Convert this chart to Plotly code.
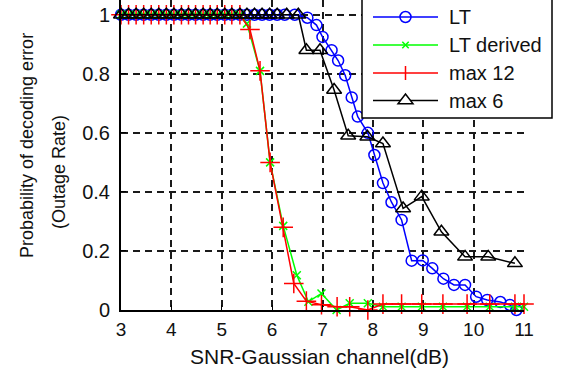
import plotly.graph_objects as go

# ---------------- data ----------------
lt_x = [3.0, 3.15, 3.3, 3.45, 3.6, 3.75, 3.9, 4.05, 4.2, 4.34, 4.48, 4.63, 4.77, 4.91,
        5.06, 5.2, 5.36, 5.5, 5.65, 5.8, 5.95, 6.1, 6.25, 6.45, 6.7, 6.88, 7.0, 7.18,
        7.31, 7.45, 7.58, 7.7, 7.9, 8.03, 8.2, 8.37, 8.57, 8.77, 8.99, 9.18, 9.4, 9.61,
        9.83, 10.05, 10.27, 10.53, 10.72, 10.85]
lt_y = [1.0, 1.0, 1.0, 1.0, 1.0, 1.0, 1.0, 1.0, 1.0, 1.0, 1.0, 1.0, 1.0, 1.0,
        1.0, 1.0, 1.0, 1.0, 1.0, 1.0, 1.0, 1.0, 1.0, 1.0, 0.99, 0.965, 0.925, 0.88,
        0.845, 0.795, 0.72, 0.655, 0.6, 0.525, 0.43, 0.365, 0.305, 0.167, 0.168, 0.141, 0.106, 0.085,
        0.085, 0.045, 0.034, 0.027, 0.017, 0.0]

ltd_x = [3.0, 3.15, 3.3, 3.45, 3.6, 3.75, 3.9, 4.05, 4.2, 4.34, 4.48, 4.63, 4.77, 4.91,
         5.06, 5.2, 5.36, 5.5, 5.76, 5.96, 6.22, 6.49, 6.72, 6.98, 7.28, 7.54, 7.9,
         8.2, 8.57, 8.97, 9.39, 9.87, 10.32, 10.82, 11.0]
ltd_y = [1.0, 1.0, 1.0, 1.0, 1.0, 1.0, 1.0, 1.0, 1.0, 1.0, 1.0, 1.0, 1.0, 1.0,
         1.0, 1.0, 1.0, 0.97, 0.81, 0.50, 0.285, 0.118, 0.028, 0.056, 0.0, 0.023, 0.023,
         0.011, 0.011, 0.011, 0.011, 0.011, 0.011, 0.011, 0.011]

m12_x = [3.0, 3.15, 3.3, 3.45, 3.6, 3.75, 3.9, 4.05, 4.2, 4.34, 4.48, 4.63, 4.77, 4.91,
         5.06, 5.2, 5.36, 5.56, 5.76, 5.96, 6.22, 6.43, 6.68, 6.98, 7.29, 7.54, 7.9,
         8.2, 8.57, 8.97, 9.39, 9.87, 10.32, 10.82, 11.0]
m12_y = [1.0, 1.0, 1.0, 1.0, 1.0, 1.0, 1.0, 1.0, 1.0, 1.0, 1.0, 1.0, 1.0, 1.0,
         1.0, 1.0, 1.0, 0.95, 0.81, 0.50, 0.28, 0.09, 0.03, 0.018, 0.011, 0.011, 0.0,
         0.02, 0.02, 0.02, 0.02, 0.02, 0.02, 0.02, 0.02]

m6_x = [3.0, 3.15, 3.3, 3.45, 3.6, 3.75, 3.9, 4.05, 4.2, 4.34, 4.48, 4.63, 4.77, 4.91,
        5.06, 5.2, 5.36, 5.5, 5.65, 5.8, 5.95, 6.1, 6.29, 6.52, 6.68, 6.95, 7.23, 7.51,
        7.89, 8.2, 8.6, 8.97, 9.36, 9.83, 10.29, 10.82]
m6_y = [1.0, 1.0, 1.0, 1.0, 1.0, 1.0, 1.0, 1.0, 1.0, 1.0, 1.0, 1.0, 1.0, 1.0,
        1.0, 1.0, 1.0, 1.0, 1.0, 1.0, 1.0, 1.0, 1.0, 1.0, 0.88, 0.88, 0.745, 0.59,
        0.587, 0.564, 0.344, 0.384, 0.265, 0.18, 0.18, 0.158]

series_names = ["LT", "LT derived", "max 12", "max 6"]
series_colors = ["#0000FF", "#00FF00", "#FF0000", "#000000"]

x_ticks = [3, 4, 5, 6, 7, 8, 9, 10, 11]
y_ticks = [0, 0.2, 0.4, 0.6, 0.8, 1]
y_tick_text = ["0", "0.2", "0.4", "0.6", "0.8", "1"]

FONT = "Liberation Sans, Arial, sans-serif"
TXT = "#111111"

fig = go.Figure()
specs = [
    (lt_x, lt_y, "circle-open", 11),
    (ltd_x, ltd_y, "x-thin-open", 8),
    (m12_x, m12_y, "cross-thin-open", 14),
    (m6_x, m6_y, "triangle-up-open", 13),
]
for (xs, ys, sym, sz), name, col in zip(specs, series_names, series_colors):
    fig.add_trace(go.Scatter(x=xs, y=ys, mode="lines+markers", name=name,
                             line=dict(color=col, width=1.5),
                             marker=dict(symbol=sym, size=sz, color=col,
                                         line=dict(width=1.5, color=col)),
                             showlegend=False, cliponaxis=False, hoverinfo="skip"))

L, R, T, B = 121, 39, 0, 65
W, H = 563, 375
pw, ph = W - L - R, H - T - B


def px_x(p):
    return (p - L) / pw


def px_y(p):
    return (H - B - p) / ph


# ---------------- legend drawn as shapes + annotations ----------------
shapes = []
annotations = []
box = dict(x0=362, x1=552, y0=-6, y1=118)
shapes.append(dict(type="rect", xref="paper", yref="paper", layer="above",
                   x0=px_x(box["x0"]), x1=px_x(box["x1"]),
                   y0=px_y(box["y1"]), y1=px_y(box["y0"]),
                   fillcolor="white", line=dict(color="black", width=1.5)))
row_y = [17, 45, 73, 100.5]
ls0, ls1, mx, tx = 373, 438, 405.5, 447


def seg(xa, ya, xb, yb, col):
    return dict(type="line", xref="paper", yref="paper", layer="above",
                x0=px_x(xa), y0=px_y(ya), x1=px_x(xb), y1=px_y(yb),
                line=dict(color=col, width=1.5))


for i, (name, col) in enumerate(zip(series_names, series_colors)):
    cy = row_y[i]
    shapes.append(seg(ls0, cy, ls1, cy, col))
    if i == 0:
        r = 5.5
        shapes.append(dict(type="circle", xref="paper", yref="paper", layer="above",
                           x0=px_x(mx - r), x1=px_x(mx + r), y0=px_y(cy + r), y1=px_y(cy - r),
                           line=dict(color=col, width=1.5), fillcolor="rgba(0,0,0,0)"))
    elif i == 1:
        a = 3.2
        shapes.append(seg(mx - a, cy - a, mx + a, cy + a, col))
        shapes.append(seg(mx - a, cy + a, mx + a, cy - a, col))
    elif i == 2:
        a = 7
        shapes.append(seg(mx, cy - a, mx, cy + a, col))
    else:
        r = 6.5
        rt, r2 = r * 2 / 3 ** 0.5, r / 2
        pts = [(mx - rt, cy + r2), (mx + rt, cy + r2), (mx, cy - r)]
        path = "M{},{} L{},{} L{},{} Z".format(
            px_x(pts[0][0]), px_y(pts[0][1]), px_x(pts[1][0]), px_y(pts[1][1]),
            px_x(pts[2][0]), px_y(pts[2][1]))
        shapes.append(dict(type="path", xref="paper", yref="paper", layer="above",
                           path=path, line=dict(color=col, width=1.5),
                           fillcolor="white"))
    annotations.append(dict(text=name, xref="paper", yref="paper",
                            x=px_x(tx), y=px_y(cy), xanchor="left", yanchor="middle",
                            showarrow=False, font=dict(family=FONT, size=20, color=TXT)))

annotations += [
    dict(text="SNR-Gaussian channel(dB)", xref="paper", yref="paper",
         x=px_x(319), y=px_y(356), xanchor="center", yanchor="middle",
         showarrow=False, font=dict(family=FONT, size=21, color=TXT)),
    dict(text="Probability of decoding error", xref="paper", yref="paper",
         x=px_x(27), y=px_y(146), xanchor="center", yanchor="middle",
         textangle=-90, showarrow=False, font=dict(family=FONT, size=18, color=TXT)),
    dict(text="(Outage Rate)", xref="paper", yref="paper",
         x=px_x(59), y=px_y(172), xanchor="center", yanchor="middle",
         textangle=-90, showarrow=False, font=dict(family=FONT, size=18, color=TXT)),
]

axis_common = dict(showline=True, linecolor="black", linewidth=2, mirror=False,
                   ticks="inside", ticklen=5, tickcolor="black", tickwidth=1,
                   showgrid=True, gridcolor="#1a1a1a", gridwidth=2, griddash="7px,5px",
                   zeroline=False, automargin=False)

fig.update_layout(
    template="none",
    width=W, height=H,
    margin=dict(l=L, r=R, t=T, b=B, pad=0, autoexpand=False),
    paper_bgcolor="white", plot_bgcolor="white",
    font=dict(family=FONT, size=19, color=TXT),
    showlegend=False,
    hovermode=False,
    xaxis=dict(range=[3, 11], tickvals=x_ticks, ticktext=[str(v) for v in x_ticks],
               ticklabelstandoff=1, tickfont=dict(family=FONT, size=19, color=TXT),
               **axis_common),
    yaxis=dict(range=[0, 1.05], tickvals=y_ticks, ticktext=y_tick_text,
               ticklabelstandoff=5, tickfont=dict(family=FONT, size=20, color=TXT),
               **axis_common),
    shapes=shapes,
    annotations=annotations,
)

fig.write_html("out.html",
               config={"displayModeBar": False, "staticPlot": True},
               post_script="document.body.style.margin='0px';"
                           "document.body.style.overflow='hidden';")
